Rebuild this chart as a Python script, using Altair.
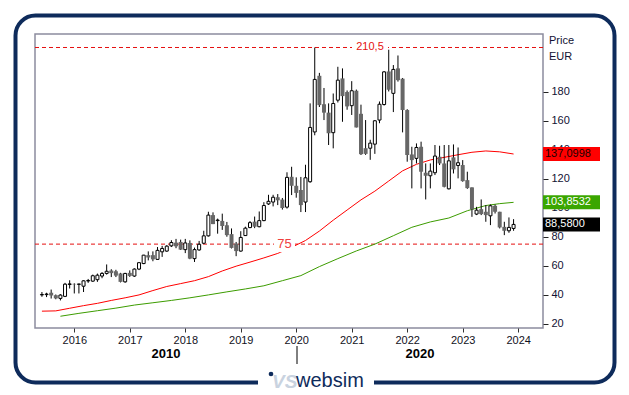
import altair as alt
import pandas as pd

# ---------------- data (monthly candles, first candle = June 2015) ----------------
start_year = 2015
start_month = 6

opens = [40.0, 40.2, 41.5, 39.8, 37.6, 39.0, 47.2, 47.6, 47.3, 46.0,
         49.6, 49.5, 50.5, 53.0, 54.8, 56.8, 56.3, 54.8, 49.0, 55.2,
         53.0, 57.8, 61.6, 67.4, 67.4, 64.5, 69.7, 70.2, 73.8, 76.0,
         76.5, 71.2, 75.8, 65.0, 71.0, 75.6, 80.7, 95.0, 91.2, 91.0,
         88.0, 81.9, 75.4, 70.2, 80.9, 86.4, 90.5, 87.0, 91.2, 102.7,
         104.0, 107.3, 105.7, 100.5, 121.4, 115.2, 112.3, 104.0, 118.0, 152.3,
         191.0, 171.4, 165.6, 151.8, 174.2, 189.2, 179.8, 170.4, 180.7, 164.8,
         141.1, 141.1, 143.9, 160.5, 171.2, 194.0, 178.9, 196.1, 189.0, 167.4,
         136.8, 134.1, 142.1, 124.2, 122.1, 124.2, 135.2, 130.6, 113.1, 134.8,
         129.2, 129.5, 119.1, 114.1, 95.7, 99.1, 97.3, 94.5, 101.4, 97.3,
         86.9, 84.2, 85.8]
highs = [42.0, 41.5, 43.7, 40.3, 40.5, 48.3, 50.1, 48.0, 47.6, 50.1,
         51.0, 54.0, 54.7, 55.7, 61.0, 57.7, 57.3, 55.2, 55.2, 56.9,
         58.3, 62.7, 67.6, 70.0, 70.0, 73.0, 73.8, 74.3, 77.7, 78.6,
         78.1, 78.6, 77.6, 72.6, 77.2, 84.2, 97.3, 96.9, 92.6, 96.0,
         90.3, 85.8, 76.5, 83.9, 87.0, 90.9, 94.0, 97.5, 103.9, 109.0,
         109.0, 109.5, 106.8, 124.5, 128.3, 121.0, 121.3, 129.7, 172.0, 210.5,
         193.0, 182.6, 172.0, 178.8, 197.2, 196.1, 180.9, 187.3, 181.5, 171.1,
         160.5, 146.9, 160.5, 173.3, 194.2, 209.0, 198.4, 205.0, 189.5, 168.0,
         142.1, 144.4, 145.6, 130.6, 130.6, 143.3, 142.8, 143.3, 143.3, 143.7,
         141.6, 132.9, 124.9, 114.1, 100.7, 105.8, 101.9, 102.3, 102.3, 97.3,
         90.4, 93.4, 92.2]
lows = [38.7, 38.5, 37.5, 37.0, 36.2, 38.5, 44.4, 41.0, 41.0, 42.0,
        48.3, 49.0, 49.0, 51.5, 54.0, 52.3, 52.3, 48.6, 48.4, 52.4,
        52.4, 57.1, 61.2, 63.8, 63.2, 64.2, 66.2, 69.7, 73.0, 72.2,
        71.0, 68.8, 64.6, 62.7, 70.4, 75.2, 80.2, 88.8, 82.2, 84.8,
        80.1, 72.0, 66.7, 69.8, 80.7, 86.0, 86.0, 86.6, 90.8, 102.0,
        101.0, 101.9, 98.8, 99.5, 108.8, 107.0, 97.1, 97.1, 117.3, 150.0,
        169.5, 160.5, 143.3, 141.0, 172.6, 159.3, 167.6, 164.0, 155.4, 136.4,
        136.5, 133.1, 137.2, 158.3, 170.5, 180.2, 166.0, 187.0, 152.0, 131.8,
        113.4, 130.6, 113.4, 105.8, 113.4, 122.6, 129.5, 114.1, 112.7, 123.7,
        120.3, 118.0, 113.1, 93.8, 95.0, 95.0, 90.4, 88.1, 96.1, 85.8,
        81.2, 82.8, 84.2]
closes = [40.3, 40.6, 39.6, 37.6, 39.9, 47.4, 47.6, 47.3, 47.5, 49.7,
          49.9, 53.2, 53.6, 54.8, 56.3, 55.0, 53.3, 49.0, 54.8, 53.1,
          57.8, 62.2, 67.4, 65.8, 64.5, 70.7, 72.0, 73.6, 76.1, 73.5,
          71.2, 75.8, 65.0, 71.2, 74.9, 80.7, 95.0, 88.8, 91.6, 87.5,
          81.2, 72.4, 70.2, 79.6, 86.0, 89.8, 87.0, 91.2, 101.6, 104.5,
          107.3, 105.2, 99.9, 121.0, 115.2, 110.3, 101.9, 120.7, 155.4, 188.5,
          170.8, 165.6, 151.4, 171.9, 188.0, 177.0, 169.9, 180.7, 155.4, 137.0,
          137.2, 144.6, 160.0, 171.4, 193.7, 181.4, 195.4, 188.0, 167.4, 136.4,
          132.9, 141.6, 124.9, 122.1, 125.3, 135.7, 130.6, 114.5, 132.4, 126.5,
          131.1, 118.4, 113.6, 98.9, 98.4, 95.7, 95.0, 101.4, 97.3, 86.5,
          84.2, 86.5, 88.58]

# moving averages (month index -> value)
red_ma_idx = [0, 3, 6, 9, 12, 15, 18, 21, 24, 27, 30, 33, 36, 39, 42, 45, 48, 51,
              54, 57, 60, 63, 66, 69, 72, 75, 78, 81, 84, 87, 90, 93, 96, 99, 102]
red_ma_val = [28.8, 29.0, 30.8, 32.6, 34.2, 36.2, 38.0, 40.0, 43.0, 45.8, 47.8, 49.8,
              52.6, 56.5, 59.8, 62.6, 65.5, 68.6, 72.8, 77.5, 84.0, 91.5, 98.5, 105.5,
              111.5, 118.5, 125.5, 130.0, 133.0, 134.8, 136.6, 138.3, 139.2, 138.6, 137.1]
green_ma_idx = [4, 8, 12, 16, 20, 24, 28, 32, 36, 40, 44, 48, 52, 56, 60, 64, 68,
                72, 76, 80, 84, 88, 92, 96, 99, 102]
green_ma_val = [25.3, 27.3, 29.1, 30.9, 33.0, 34.6, 36.2, 38.0, 40.0, 42.1, 44.1,
                46.3, 49.8, 53.3, 59.5, 65.0, 70.3, 75.0, 80.8, 86.6, 90.3, 93.0,
                98.0, 101.6, 102.9, 103.8]

year_ticks = list(range(2016, 2025))
price_ticks = [20, 40, 60, 80, 100, 120, 140, 160, 180]
level_values = [210.5, 75]
level_texts = ["210,5", "75"]
tag_values = [137.0998, 103.8532, 88.58]
tag_texts = ["137,0998", "103,8532", "88,5800"]
tag_fills = ["#ff0000", "#3aa600", "#000000"]
tag_text_colors = ["#200000", "#ffffff", "#ffffff"]

# ---------------- build tables ----------------
def t_of(i):
    return start_year + (start_month - 1 + i) / 12.0

candles = pd.DataFrame({
    "t": [t_of(i) for i in range(len(opens))],
    "o": opens, "h": highs, "l": lows, "c": closes,
})
up = candles[candles["c"] >= candles["o"]]
down = candles[candles["c"] < candles["o"]]
red_df = pd.DataFrame({"t": [t_of(i) for i in red_ma_idx], "v": red_ma_val})
green_df = pd.DataFrame({"t": [t_of(i) for i in green_ma_idx], "v": green_ma_val})
levels_df = pd.DataFrame({"v": level_values, "txt": level_texts})
tags_df = pd.DataFrame({"v": tag_values, "txt": tag_texts,
                        "fill": tag_fills, "tc": tag_text_colors})
one = pd.DataFrame({"k": [0]})

FONT = "Liberation Sans"
NAVY = "#0e2b5b"

xs = alt.Scale(domain=[2015.382, 2024.357], nice=False, zero=False)
ys = alt.Scale(domain=[17.2, 219.8], nice=False, zero=False)

xaxis = alt.Axis(
    values=year_ticks, format="d", title=None, grid=False, domain=False,
    tickSize=4, tickColor="#333333", labelPadding=2, labelFontSize=11,
    labelColor="#111122", labelFont=FONT, labelOverlap=False)
yaxis = alt.Axis(values=price_ticks, orient="right", title=None, grid=False,
                 domain=False, tickSize=5, tickColor="#222222", labelPadding=3,
                 labelFontSize=11, labelColor="#111133", labelFont=FONT,
                 labelOverlap=False)


def X(f):
    return alt.X(f, scale=xs, axis=xaxis)


def Y(f):
    return alt.Y(f, scale=ys, axis=yaxis)


# frame
frame = alt.Chart(one).mark_rect(fillOpacity=0, stroke=NAVY, strokeWidth=4,
                                 cornerRadius=20).encode(
    x=alt.value(-19.5), x2=alt.value(579.5), y=alt.value(-18.5), y2=alt.value(348.5))
cut = alt.Chart(one).mark_rect(fill="white").encode(
    x=alt.value(223), x2=alt.value(339), y=alt.value(340), y2=alt.value(357))
logo_dot = alt.Chart(one).mark_circle(color=NAVY, size=22, opacity=1).encode(
    x=alt.value(236), y=alt.value(340))
logo_vs = alt.Chart(one).mark_text(text="VS", font=FONT, fontSize=19, fontWeight="bold",
                                   fontStyle="italic", color="#c9d3e0", align="left",
                                   baseline="middle").encode(
    x=alt.value(237), y=alt.value(348))
logo_txt = alt.Chart(one).mark_text(text="websim", font=FONT, fontSize=20, color=NAVY,
                                    align="left", baseline="middle").encode(
    x=alt.value(261), y=alt.value(347))

# levels
level_rules = alt.Chart(levels_df).mark_rule(color="#e51010", strokeWidth=1,
                                             strokeDash=[4, 3]).encode(y=Y("v:Q"))
lab_box_top = alt.Chart(levels_df[levels_df["v"] > 200]).mark_rect(
    fill="white", yOffset=-7, y2Offset=7).encode(
    x=alt.value(317), x2=alt.value(353), y=Y("v:Q"), y2="v:Q")
lab_top = alt.Chart(levels_df[levels_df["v"] > 200]).mark_text(
    font=FONT, fontSize=11, color="#e51010", align="center", baseline="middle").encode(
    x=alt.value(335), y=Y("v:Q"), text="txt:N")
lab_box75 = alt.Chart(levels_df[levels_df["v"] == 75]).mark_rect(
    fill="white", yOffset=-8, y2Offset=8).encode(
    x=alt.value(239), x2=alt.value(260), y=Y("v:Q"), y2="v:Q")
lab_75 = alt.Chart(levels_df[levels_df["v"] == 75]).mark_text(
    font=FONT, fontSize=13, color="#f04040", align="center", baseline="middle").encode(
    x=alt.value(249.5), y=Y("v:Q"), text="txt:N")

# moving averages
red_line = alt.Chart(red_df).mark_line(color="#ff0000", strokeWidth=1).encode(
    x=X("t:Q"), y=Y("v:Q"))
green_line = alt.Chart(green_df).mark_line(color="#3c9c00", strokeWidth=1).encode(
    x=X("t:Q"), y=Y("v:Q"))

# candles
wicks = alt.Chart(candles).mark_rule(color="black", strokeWidth=1).encode(
    x=X("t:Q"), y=Y("l:Q"), y2="h:Q")
up_bodies = alt.Chart(up).mark_bar(size=3, fill="white", stroke="black",
                                   strokeWidth=1).encode(
    x=X("t:Q"), y=Y("o:Q"), y2="c:Q")
down_bodies = alt.Chart(down).mark_bar(size=4, color="#676767").encode(
    x=X("t:Q"), y=Y("o:Q"), y2="c:Q")

# value tags on right
tag_rects = alt.Chart(tags_df).mark_rect(yOffset=-7, y2Offset=7).encode(
    x=alt.value(508), x2=alt.value(565), y=Y("v:Q"), y2="v:Q",
    fill=alt.Fill("fill:N", scale=None))
tag_labels = alt.Chart(tags_df).mark_text(font=FONT, fontSize=11, align="left",
                                          baseline="middle").encode(
    x=alt.value(510), y=Y("v:Q"), text="txt:N",
    color=alt.Color("tc:N", scale=None))

# header & decade labels
price_lbl = alt.Chart(one).mark_text(text="Price", font=FONT, fontSize=11,
                                     color="#111133", align="left",
                                     baseline="middle").encode(
    x=alt.value(514), y=alt.value(7))
eur_lbl = alt.Chart(one).mark_text(text="EUR", font=FONT, fontSize=11,
                                   color="#111133", align="left",
                                   baseline="middle").encode(
    x=alt.value(514), y=alt.value(23))
dec10 = alt.Chart(one).mark_text(text="2010", font=FONT, fontSize=13, fontWeight="bold",
                                 color="black", align="center",
                                 baseline="middle").encode(
    x=alt.value(131), y=alt.value(320))
dec20 = alt.Chart(one).mark_text(text="2020", font=FONT, fontSize=13, fontWeight="bold",
                                 color="black", align="center",
                                 baseline="middle").encode(
    x=alt.value(385), y=alt.value(320))
dec_tick = alt.Chart(one).mark_rule(color="black", strokeWidth=1).encode(
    x=alt.value(262), y=alt.value(312), y2=alt.value(330))

chart = alt.layer(
    frame, cut, logo_dot, logo_vs, logo_txt,
    level_rules, red_line, green_line,
    wicks, up_bodies, down_bodies,
    lab_box_top, lab_top, lab_box75, lab_75,
    tag_rects, tag_labels,
    price_lbl, eur_lbl, dec10, dec20, dec_tick,
).properties(
    width=508, height=294,
    autosize=alt.AutoSizeParams(type="none"),
    padding={"left": 27, "top": 26, "right": 77, "bottom": 66},
    background="white",
).configure_view(stroke="#8c8c9e", strokeWidth=1.5
).configure_axis(labelOverlap=False)

chart.save("out.html", embed_options={"renderer": "svg", "actions": False})
